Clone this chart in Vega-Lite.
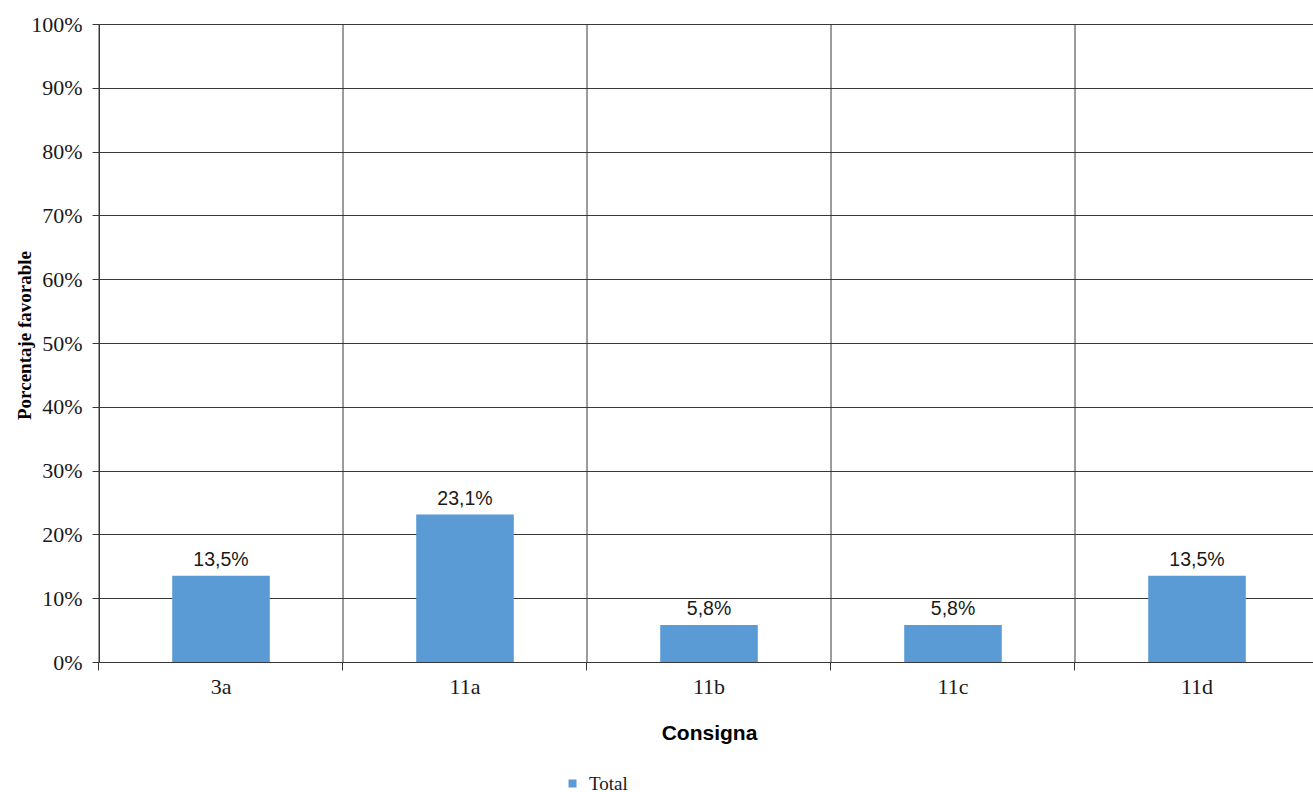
{
  "$schema": "https://vega.github.io/schema/vega-lite/v6.json",
  "width": 1220,
  "height": 638,
  "autosize": "none",
  "padding": {"left": 99, "top": 24, "right": 0, "bottom": 130},
  "background": "white",
  "config": {
    "view": {"stroke": null},
    "locale": {
      "number": {"decimal": ",", "thousands": ".", "grouping": [3], "currency": ["", " €"]}
    },
    "axis": {
      "labelFont": "Liberation Serif",
      "labelColor": "#1a1a1a",
      "titleColor": "#000000",
      "domainColor": "#383838",
      "tickColor": "#383838",
      "gridColor": "#383838",
      "gridOpacity": 1
    }
  },
  "data": {
    "values": [
      {"consigna": "3a", "porcentaje": 0.135, "serie": "Total"},
      {"consigna": "11a", "porcentaje": 0.231, "serie": "Total"},
      {"consigna": "11b", "porcentaje": 0.058, "serie": "Total"},
      {"consigna": "11c", "porcentaje": 0.058, "serie": "Total"},
      {"consigna": "11d", "porcentaje": 0.135, "serie": "Total"}
    ]
  },
  "resolve": {"axis": {"x": "independent"}},
  "layer": [
    {
      "mark": {"type": "rule", "color": "#383838", "strokeWidth": 1},
      "encoding": {
        "x": {
          "field": "consigna",
          "type": "nominal",
          "sort": null,
          "bandPosition": -0.75,
          "scale": {"paddingInner": 0.6, "paddingOuter": 0.3},
          "axis": {
            "orient": "bottom",
            "title": null,
            "labels": false,
            "domain": false,
            "bandPosition": -0.75,
            "grid": false,
            "ticks": true,
            "tickSize": 8
          }
        }
      }
    },
    {
      "mark": {"type": "bar", "color": "#5B9BD5"},
      "encoding": {
        "x": {
          "field": "consigna",
          "type": "nominal",
          "sort": null,
          "axis": {
            "orient": "bottom",
            "title": "Consigna",
            "titleFont": "Liberation Sans",
            "titleFontSize": 21,
            "titleFontWeight": "bold",
            "titlePadding": 25,
            "labelAngle": 0,
            "labelFontSize": 22,
            "labelPadding": 14,
            "ticks": false,
            "grid": false,
            "domain": true
          }
        },
        "y": {
          "field": "porcentaje",
          "type": "quantitative",
          "scale": {"domain": [0, 1], "nice": false},
          "axis": {
            "title": "Porcentaje favorable",
            "titleFont": "Liberation Serif",
            "titleFontSize": 19,
            "titleFontWeight": "bold",
            "titlePadding": -4,
            "titleY": 311,
            "format": ".0%",
            "values": [0, 0.1, 0.2, 0.3, 0.4, 0.5, 0.6, 0.7, 0.8, 0.9, 1],
            "labelFontSize": 22,
            "labelPadding": 10,
            "tickSize": 7,
            "grid": true
          }
        },
        "color": {
          "field": "serie",
          "type": "nominal",
          "scale": {"range": ["#5B9BD5"]},
          "legend": {
            "title": null,
            "orient": "none",
            "legendX": 464,
            "legendY": 750,
            "symbolType": "square",
            "symbolSize": 64,
            "symbolStrokeWidth": 0,
            "labelFont": "Liberation Serif",
            "labelFontSize": 19,
            "labelColor": "#1a1a1a",
            "labelOffset": 7
          }
        }
      }
    },
    {
      "mark": {
        "type": "text",
        "font": "Liberation Sans",
        "fontSize": 19.5,
        "color": "#1a1a1a",
        "baseline": "alphabetic",
        "dy": -10
      },
      "encoding": {
        "x": {"field": "consigna", "type": "nominal", "sort": null, "axis": null},
        "y": {"field": "porcentaje", "type": "quantitative"},
        "text": {"field": "porcentaje", "type": "quantitative", "format": ".1%"}
      }
    }
  ]
}
